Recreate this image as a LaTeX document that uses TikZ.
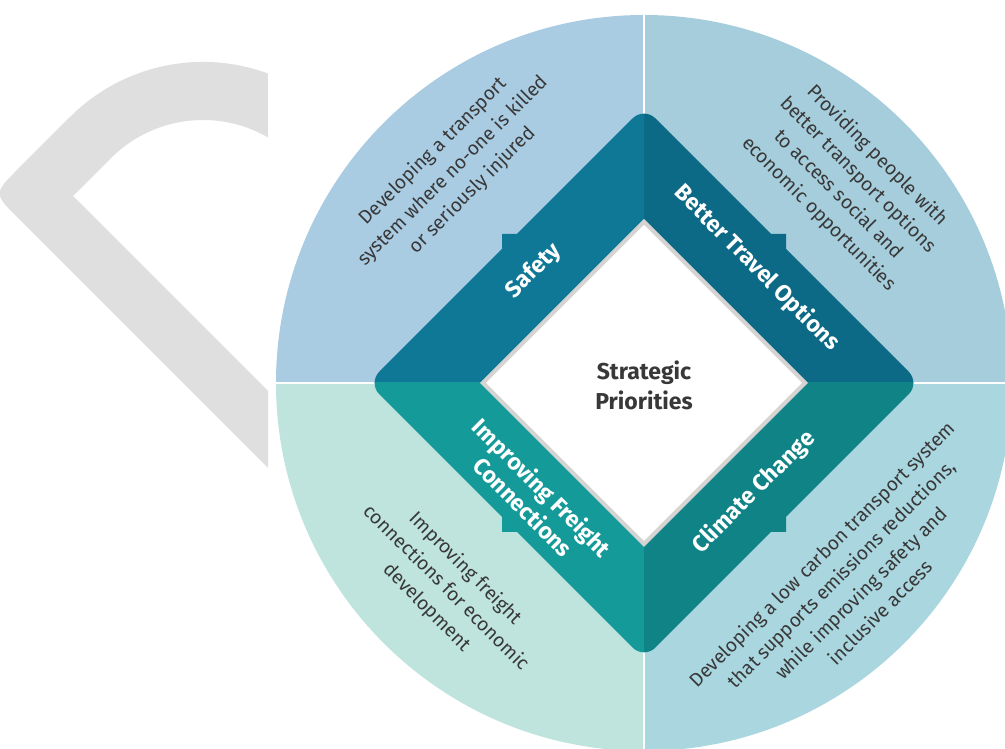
\documentclass[tikz,border=0pt]{standalone}
\usepackage{fontspec}
\setmainfont{Fira Sans}
\definecolor{qTL}{HTML}{AACCE2}
\definecolor{qTR}{HTML}{A6CDDC}
\definecolor{qBL}{HTML}{BEE4DD}
\definecolor{qBR}{HTML}{AAD6DF}
\definecolor{bTL}{HTML}{0E7896}
\definecolor{bTR}{HTML}{0C6A86}
\definecolor{bBL}{HTML}{149A99}
\definecolor{bBR}{HTML}{0F8386}
\definecolor{chev}{HTML}{DFDFDF}
\definecolor{rim}{HTML}{D6D3D3}
\definecolor{txt}{HTML}{383838}
\tikzset{
  desc/.style={text=txt, font=\fontsize{19.2}{27.5}\selectfont, align=center, inner sep=0pt},
  bandlabel/.style={text=white, font=\fontsize{23}{27}\selectfont\bfseries, align=center, inner sep=0pt},
  centerlabel/.style={text=txt, font=\fontsize{23}{30}\selectfont\bfseries, align=center, inner sep=0pt},
  sep/.style={white, line width=2.5pt},
  diamondpath/.style={rounded corners=16pt}
}
\begin{document}
\begin{tikzpicture}[x=1pt,y=1pt]
\useasboundingbox (0,0) rectangle (1005,749);
\fill[white] (0,0) rectangle (1005,749);
% grey chevron
\fill[chev] (268,281) -- (18.2,530.8) .. controls (-6.5,555.5) .. (18.2,580.2) -- (70,632)
  arc[start angle=135,end angle=69.8,radius=188] -- (268,611.6)
  arc[start angle=60,end angle=135,radius=130] -- (73,553) -- (268,358) -- cycle;
% circle quadrants
\coordinate (C) at (644,366);
\fill[qTL] (C) -- ++(0,368) arc[start angle=90,end angle=180,radius=368] -- cycle;
\fill[qBL] (C) -- ++(-368,0) arc[start angle=180,end angle=270,radius=368] -- cycle;
\fill[qBR] (C) -- ++(0,-368) arc[start angle=270,end angle=360,radius=368] -- cycle;
\fill[qTR] (C) -- ++(368,0) arc[start angle=0,end angle=90,radius=368] -- cycle;
\draw[sep] (C) -- ++(0,370);
\draw[sep] (C) -- ++(0,-370);
\draw[sep] (C) -- ++(-370,0);
\draw[sep] (C) -- ++(370,0);
% diamond band, four quadrants
\begin{scope}
\clip (C) rectangle ++(-300,300);
\fill[bTL, diamondpath] (644,642) -- (920,366) -- (644,90) -- (368,366) -- cycle;
\fill[bTL] (502,515) -- (502,497) -- (520,515) -- cycle;
\end{scope}
\begin{scope}
\clip (C) rectangle ++(300,300);
\fill[bTR, diamondpath] (644,642) -- (920,366) -- (644,90) -- (368,366) -- cycle;
\fill[bTR] (786,515) -- (786,497) -- (768,515) -- cycle;
\end{scope}
\begin{scope}
\clip (C) rectangle ++(-300,-300);
\fill[bBL, diamondpath] (644,642) -- (920,366) -- (644,90) -- (368,366) -- cycle;
\fill[bBL] (502,217) -- (502,235) -- (520,217) -- cycle;
\end{scope}
\begin{scope}
\clip (C) rectangle ++(300,-300);
\fill[bBR, diamondpath] (644,642) -- (920,366) -- (644,90) -- (368,366) -- cycle;
\fill[bBR] (786,217) -- (786,235) -- (768,217) -- cycle;
\end{scope}
% inner diamond
\fill[rim] (644,530) -- (808,366) -- (644,202) -- (480,366) -- cycle;
\fill[white] (644,524) -- (802,366) -- (644,208) -- (486,366) -- cycle;
% labels
\node[centerlabel] (center) at (644,364) {Strategic\\Priorities};
\node[bandlabel, rotate=45] (safety) at (534,478) {Safety};
\node[bandlabel, rotate=-45] (travel) at (757,481) {Better Travel Options};
\node[bandlabel, rotate=-45] (freight) at (533,252) {Improving Freight\\Connections};
\node[bandlabel, rotate=45] (climate) at (754,257) {Climate Change};
\node[desc, rotate=45] (dsafety) at (453,578) {Developing a transport\\system where no-one is killed\\or seriously injured};
\node[desc, rotate=-45] (dtravel) at (848,564) {Providing people with\\better transport options\\to access social and\\economic opportunities};
\node[desc, rotate=-45] (dfreight) at (446,161) {Improving freight\\connections for economic\\development};
\node[desc, rotate=45] (dclimate) at (851,166) {Developing a low carbon transport system\\that supports emissions reductions,\\while improving safety and\\inclusive access};
\end{tikzpicture}
\end{document}
